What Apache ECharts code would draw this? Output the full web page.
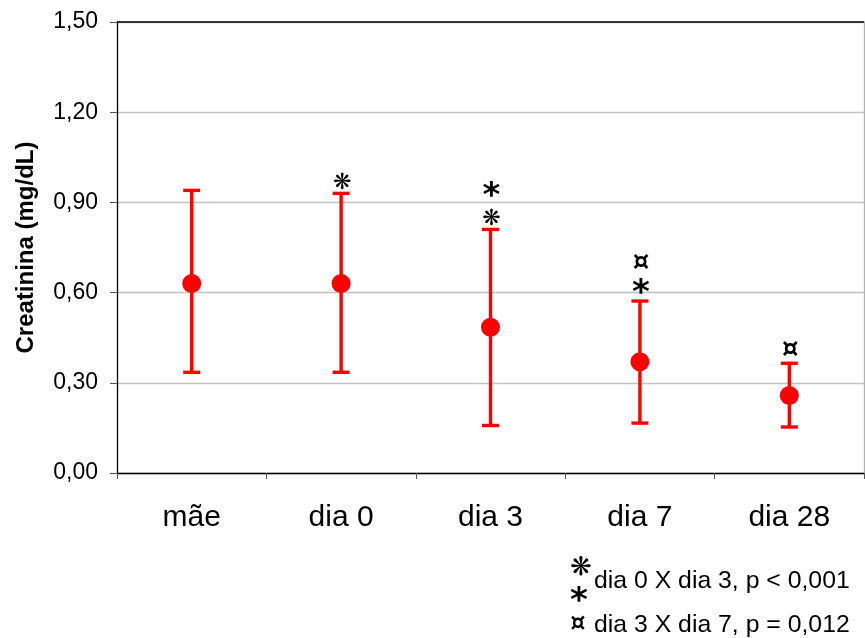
<!DOCTYPE html>
<html>
<head>
<meta charset="utf-8">
<script src="https://cdn.jsdelivr.net/npm/echarts@6/dist/echarts.min.js"></script>
<style>
  html, body { margin: 0; padding: 0; background: #fff; }
  #chart { width: 865px; height: 638px; }
</style>
</head>
<body>
<div id="chart"></div>
<script>
// Serum creatinine by time point: mean with upper / lower bar limits
const categories = ['mãe', 'dia 0', 'dia 3', 'dia 7', 'dia 28'];
const meanValues = [0.63, 0.63, 0.485, 0.37, 0.258];
const upperValues = [0.94, 0.93, 0.81, 0.572, 0.365];
const lowerValues = [0.335, 0.335, 0.158, 0.166, 0.153];
// significance markers stacked above each bar (top line first)
const markers = ['', '❋', '*\n❋', '¤\n*', '¤'];
const yTicks = { min: 0, max: 1.5, interval: 0.3 };
const yTitle = 'Creatinina (mg/dL)';
const notes = [
  { symbol: '❋', text: 'dia 0 X dia 3, p < 0,001' },
  { symbol: '*', text: '' },
  { symbol: '¤', text: 'dia 3 X dia 7, p = 0,012' }
];

const FONT = 'Liberation Sans, Arial, sans-serif';
const SYM_FONT = 'DejaVu Sans, sans-serif';
const RED = '#ff0000';

const chart = echarts.init(document.getElementById('chart'), null, { renderer: 'canvas' });

const errorData = categories.map((c, i) => [i, lowerValues[i], upperValues[i]]);
const markerData = categories.map((c, i) => [i, upperValues[i]]);

function symbolFont(s, size) {
  if (s === '*') return 'bold 34px ' + SYM_FONT;
  if (s === '¤') return 'bold 26px ' + SYM_FONT;
  return 'bold ' + (size || 22) + 'px ' + SYM_FONT;
}
function symbolShift(s) {
  // glyphs that sit high in their em box are nudged down
  if (s === '*') return 6;
  if (s === '❋') return 3;
  return 0;
}

function renderError(params, api) {
  const x = api.value(0);
  const lo = api.coord([x, api.value(1)]);
  const hi = api.coord([x, api.value(2)]);
  const half = 8.5;
  const style = { stroke: RED, lineWidth: 3.4 };
  return {
    type: 'group',
    children: [
      { type: 'line', shape: { x1: hi[0], y1: hi[1], x2: lo[0], y2: lo[1] }, style },
      { type: 'line', shape: { x1: hi[0] - half, y1: hi[1], x2: hi[0] + half, y2: hi[1] }, style },
      { type: 'line', shape: { x1: lo[0] - half, y1: lo[1], x2: lo[0] + half, y2: lo[1] }, style }
    ]
  };
}

function renderMarkers(params, api) {
  const x = api.value(0);
  const top = api.coord([x, api.value(1)]);
  const lines = String(markers[params.dataIndex] || '').split('\n').filter(s => s.length);
  const n = lines.length;
  const children = lines.map((s, k) => ({
    type: 'text',
    style: {
      text: s,
      x: top[0] + 1,
      y: top[1] - 13 - (n - 1 - k) * 25 + symbolShift(s),
      align: 'center',
      verticalAlign: 'middle',
      font: symbolFont(s),
      fill: '#000'
    }
  }));
  return { type: 'group', children };
}

const option = {
  animation: false,
  backgroundColor: '#fff',
  grid: { left: 117, right: 1, top: 22, bottom: 165, containLabel: false },
  xAxis: {
    type: 'category',
    data: categories,
    boundaryGap: true,
    axisLine: { lineStyle: { color: '#000', width: 1.3 } },
    axisTick: { show: true, length: 6, lineStyle: { color: '#555', width: 1 } },
    axisLabel: { color: '#000', fontSize: 30, fontFamily: FONT, margin: 30 },
    splitLine: { show: false }
  },
  yAxis: [
    {
      type: 'value',
      min: yTicks.min,
      max: yTicks.max,
      interval: yTicks.interval,
      name: yTitle,
      nameLocation: 'middle',
      nameRotate: 90,
      nameGap: 79,
      nameTextStyle: { fontFamily: FONT, fontWeight: 'bold', fontSize: 24, color: '#000' },
      axisLine: { show: true, lineStyle: { color: '#000', width: 1.3 } },
      axisTick: { show: true, length: 7, lineStyle: { color: '#555' } },
      axisLabel: {
        color: '#000', fontSize: 23, fontFamily: FONT, margin: 19,
        formatter: v => v.toFixed(2).replace('.', ',')
      },
      splitLine: { show: true, lineStyle: { color: '#c0c0c0', width: 1.3 } }
    },
    {
      type: 'value',
      position: 'right',
      min: yTicks.min,
      max: yTicks.max,
      interval: yTicks.interval,
      axisLine: { show: true, lineStyle: { color: '#b0b0b0', width: 1.3 } },
      axisTick: { show: false },
      axisLabel: { show: false },
      splitLine: { show: false }
    }
  ],
  series: [
    {
      type: 'custom',
      renderItem: renderError,
      data: errorData,
      encode: { x: 0, y: [1, 2] },
      z: 2,
      // dark frame line along the top of the plot
      markLine: {
        silent: true,
        symbol: ['none', 'none'],
        label: { show: false },
        lineStyle: { color: '#000', width: 1.5, type: 'solid' },
        data: [{ yAxis: yTicks.max }]
      }
    },
    {
      type: 'scatter',
      data: meanValues.map((v, i) => [i, v]),
      symbol: 'circle',
      symbolSize: 19,
      itemStyle: { color: RED, opacity: 1 },
      z: 3
    },
    {
      type: 'custom',
      renderItem: renderMarkers,
      data: markerData,
      encode: { x: 0, y: 1 },
      z: 4
    }
  ],
  graphic: [
    {
      type: 'text', x: 581, y: 568,
      style: { text: notes[0].symbol, font: symbolFont('❋', 26), fill: '#000', align: 'center', verticalAlign: 'middle' }
    },
    {
      type: 'text', x: 594, y: 581,
      style: { text: notes[0].text, font: '24.8px ' + FONT, fill: '#000', verticalAlign: 'middle' }
    },
    {
      type: 'text', x: 579, y: 602,
      style: { text: notes[1].symbol, font: symbolFont('*'), fill: '#000', align: 'center', verticalAlign: 'middle' }
    },
    {
      type: 'text', x: 578, y: 625,
      style: { text: notes[2].symbol, font: 'bold 24px ' + SYM_FONT, fill: '#000', align: 'center', verticalAlign: 'middle' }
    },
    {
      type: 'text', x: 594, y: 625,
      style: { text: notes[2].text, font: '24.8px ' + FONT, fill: '#000', verticalAlign: 'middle' }
    }
  ]
};

chart.setOption(option);
</script>
</body>
</html>
